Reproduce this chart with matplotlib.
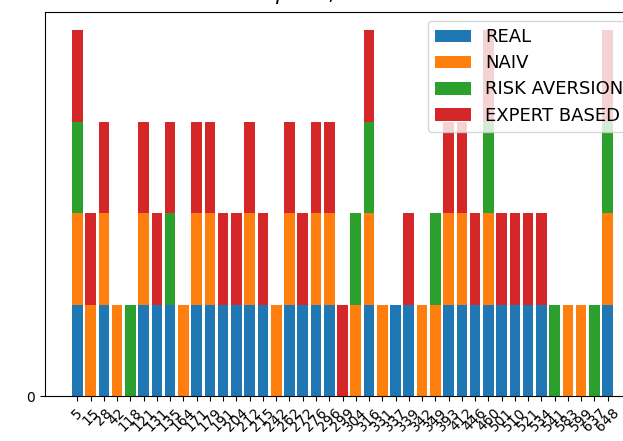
import matplotlib
matplotlib.use("Agg")
import matplotlib.pyplot as plt
import numpy as np

# ── Data ──────────────────────────────────────────────────────
labels = ["5", "15", "28", "42", "118", "121", "131", "135", "164", "171",
          "179", "191", "204", "212", "215", "242", "262", "272", "276", "296",
          "299", "304", "316", "331", "337", "339", "342", "349", "393", "412",
          "446", "460", "501", "510", "521", "534", "541", "583", "599", "637",
          "648"]

real   = [1, 0, 1, 0, 0, 1, 1, 1, 0, 1, 1, 1, 1, 1, 1, 0, 1, 1, 1, 1,
          0, 0, 1, 0, 1, 1, 0, 0, 1, 1, 1, 1, 1, 1, 1, 1, 0, 0, 0, 0, 1]
naiv   = [1, 1, 1, 1, 0, 1, 0, 0, 1, 1, 1, 0, 0, 1, 0, 1, 1, 0, 1, 1,
          0, 1, 1, 1, 0, 0, 1, 1, 1, 1, 0, 1, 0, 0, 0, 0, 0, 1, 1, 0, 1]
risk   = [1, 0, 0, 0, 1, 0, 0, 1, 0, 0, 0, 0, 0, 0, 0, 0, 0, 0, 0, 0,
          0, 1, 1, 0, 0, 0, 0, 1, 0, 0, 0, 1, 0, 0, 0, 0, 1, 0, 0, 1, 1]
expert = [1, 1, 1, 0, 0, 1, 1, 1, 0, 1, 1, 1, 1, 1, 1, 0, 1, 1, 1, 1,
          1, 0, 1, 0, 0, 1, 0, 0, 1, 1, 1, 1, 1, 1, 1, 1, 0, 0, 0, 0, 1]

# ── Plot ──────────────────────────────────────────────────────
fig = plt.figure(figsize=(6.23, 4.41), dpi=100)
ax = fig.add_axes([45/623, 45/441, 595/623, 384/441])

x = np.arange(len(labels))
r = np.array(real); n = np.array(naiv); k = np.array(risk); e = np.array(expert)

ax.bar(x, r, label="REAL", color="#1f77b4")
ax.bar(x, n, bottom=r, label="NAIV", color="#ff7f0e")
ax.bar(x, k, bottom=r + n, label="RISK AVERSION", color="#2ca02c")
ax.bar(x, e, bottom=r + n + k, label="EXPERT BASED", color="#d62728")

ax.set_title(r"$\beta = 1, \alpha = 0.5$", fontsize=15, pad=9)
ax.set_xticks(x)
ax.set_xticklabels(labels, rotation=45)
ax.set_yticks([0])
ax.legend(loc="upper right", fontsize=13, labelspacing=0.45)

fig.savefig("out.png", dpi=100)
